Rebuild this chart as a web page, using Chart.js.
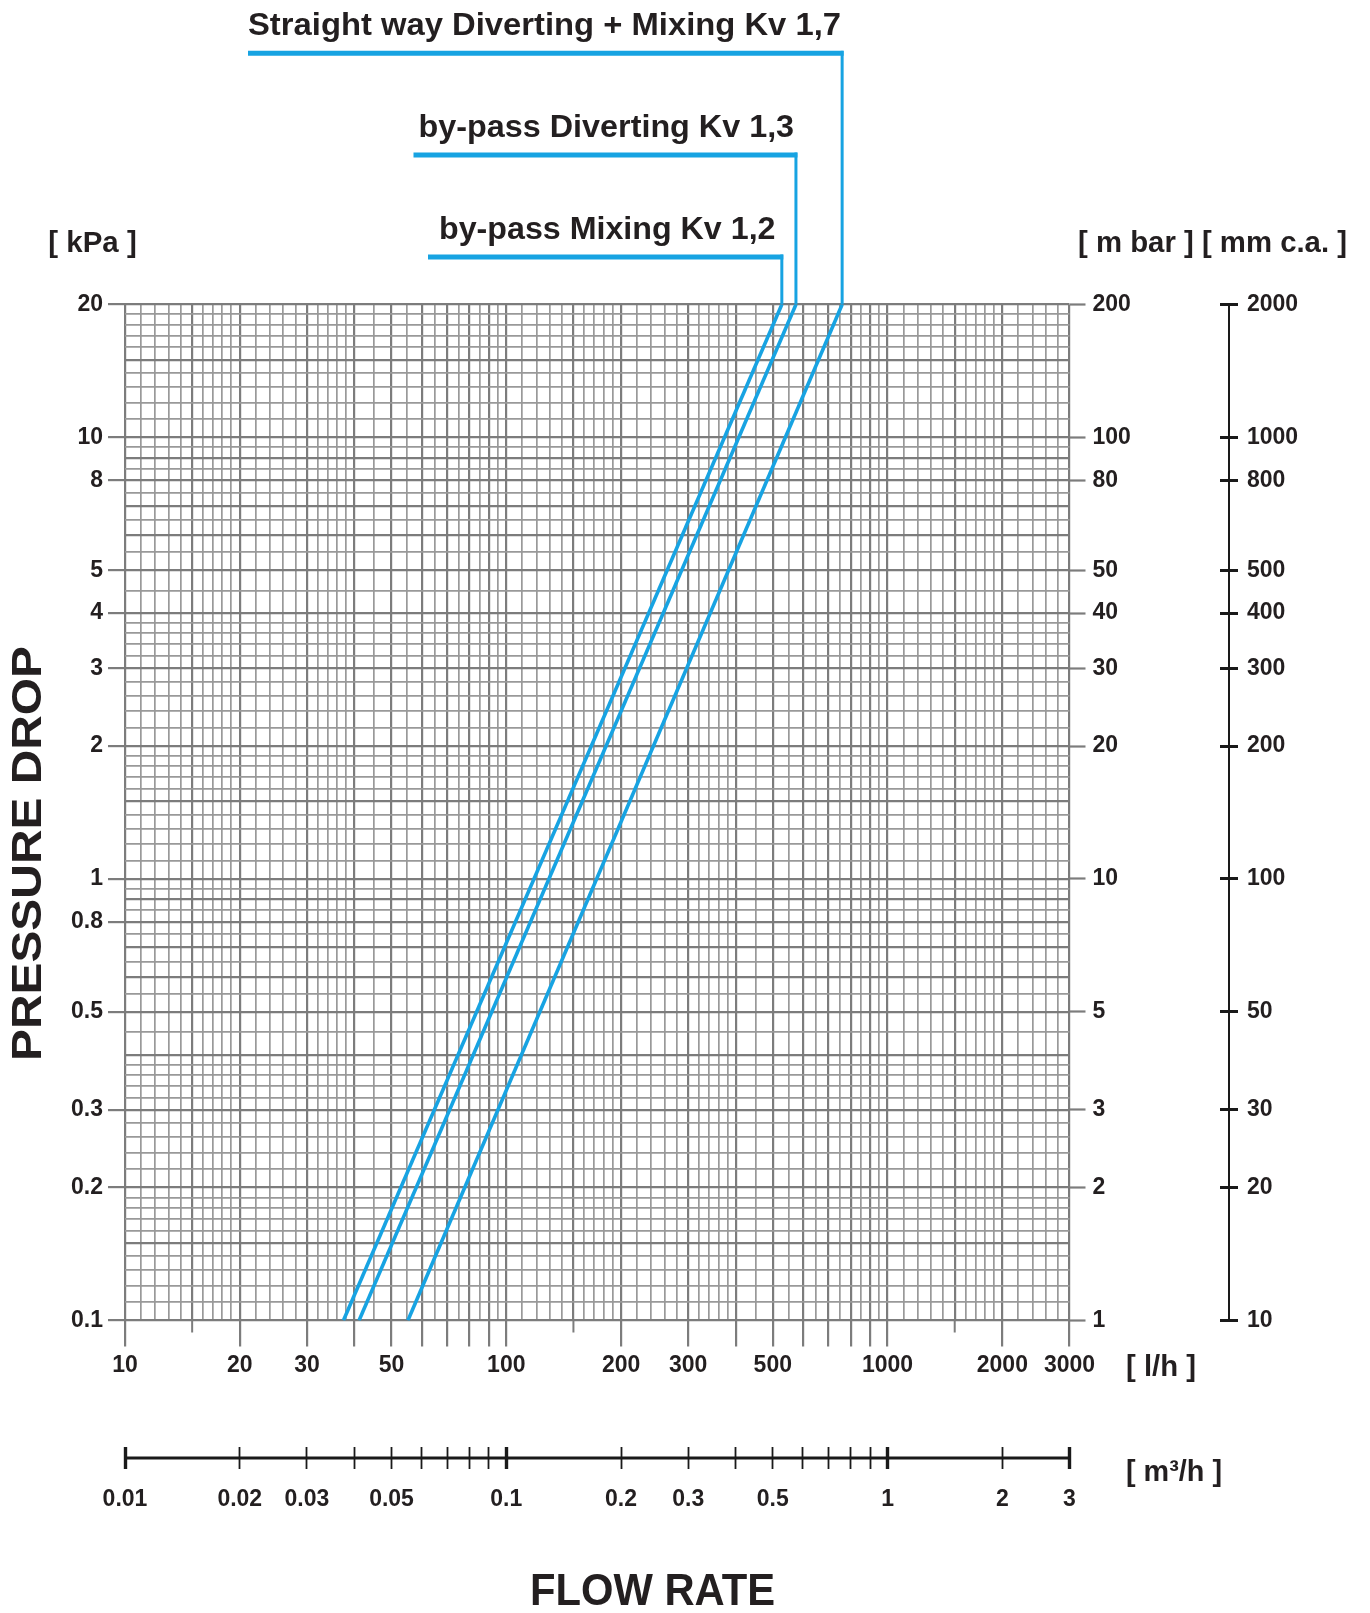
<!DOCTYPE html>
<html><head><meta charset="utf-8">
<script src="https://cdn.jsdelivr.net/npm/chart.js@4.4.1/dist/chart.umd.min.js"></script>
<style>html,body{margin:0;padding:0;background:#fff;}#wrap{width:1370px;height:1613px;position:relative;}canvas{display:block;}</style>
</head><body><div id="wrap"><canvas id="c" width="1370" height="1613"></canvas></div>
<script>
// ---------- DATA ----------
const seriesNames = ['by-pass Mixing Kv 1,2', 'by-pass Diverting Kv 1,3', 'Straight way Diverting + Mixing Kv 1,7'];
const kv12Flow = [37.4, 528];   // l/h
const kv12Drop = [0.1, 20];     // kPa
const kv13Flow = [41.1, 575];
const kv13Drop = [0.1, 20];
const kv17Flow = [55.2, 760];
const kv17Drop = [0.1, 20];

const flowLabels = [10, 20, 30, 50, 100, 200, 300, 500, 1000, 2000, 3000];
const flowTicks = [10, 20, 30, 40, 50, 60, 70, 80, 90, 100, 200, 300, 400, 500, 600, 700, 800, 900, 1000, 2000, 3000];
const flowShortTicks = [15, 150, 1500];
const kpaLabels = [20, 10, 8, 5, 4, 3, 2, 1, 0.8, 0.5, 0.3, 0.2, 0.1];
const mbarLabels = [200, 100, 80, 50, 40, 30, 20, 10, 5, 3, 2, 1];
const mmLabels = [2000, 1000, 800, 500, 400, 300, 200, 100, 50, 30, 20, 10];
const m3hTicks = [0.01, 0.02, 0.03, 0.04, 0.05, 0.06, 0.07, 0.08, 0.09, 0.1, 0.2, 0.3, 0.4, 0.5, 0.6, 0.7, 0.8, 0.9, 1, 2, 3];
const m3hLabels = [0.01, 0.02, 0.03, 0.05, 0.1, 0.2, 0.3, 0.5, 1, 2, 3];
const m3hMajor = [0.01, 0.1, 1, 3];
const gridSteps = [1, 1.1, 1.2, 1.3, 1.4, 1.5, 1.6, 1.7, 1.8, 1.9, 2, 2.2, 2.4, 2.6, 2.8, 3, 3.2, 3.4, 3.6, 3.8, 4, 4.5, 5, 5.5, 6, 6.5, 7, 7.5, 8, 8.5, 9, 9.5];
const gridMajor = [1, 1.5, 2, 3, 4, 5, 6, 7, 8, 9];

// ---------- helpers ----------
const near = (a, b) => Math.abs(a - b) <= Math.abs(b) * 1e-6;
const has = (arr, v) => arr.some(a => near(a, v));
const pick = (arr, v) => { const f = arr.find(a => near(a, v)); return f === undefined ? '' : String(f); };
function gridValues(min, max) {
  const out = [];
  for (let e = Math.floor(Math.log10(min)); e <= Math.ceil(Math.log10(max)); e++) {
    for (const m of gridSteps) {
      const v = parseFloat((m * Math.pow(10, e)).toPrecision(6));
      if (v >= min * 0.99999 && v <= max * 1.00001 && !out.some(o => near(o, v))) out.push(v);
    }
  }
  return out;
}
function isMajorGrid(v) {
  const e = Math.floor(Math.log10(v) + 1e-9);
  const m = parseFloat((v / Math.pow(10, e)).toPrecision(6));
  return has(gridMajor, m);
}
const xGrid = gridValues(10, 3000);
const yGrid = gridValues(0.1, 20);

const blue = '#17a3e2';
const gridDark = '#7c7c7c';
const gridLight = '#999999';
const txt = '#231f20';
const FAM = "'Liberation Sans', Arial, Helvetica, sans-serif";
const tickFont = { family: FAM, size: 23, weight: 'bold' };
const clear = 'rgba(0,0,0,0)';

const tv = c => (c && c.tick) ? c.tick.value : NaN;

function ds(name, flow, drop) {
  return {
    label: name,
    data: flow.map((q, i) => ({ x: q, y: drop[i] })),
    borderColor: blue, backgroundColor: blue, borderWidth: 3.6,
    pointRadius: 0, fill: false, tension: 0
  };
}

// ---------- annotation positions (layout only) ----------
const leaderY = [257, 155, 53.3];
const leaderStartX = [428, 413.5, 248];
const titleX = [439, 418.6, 248];
const titleBase = [238.7, 136.7, 35];
const titleW = [336.5, 375.5, 593];

function fitText(ctx, text, x, y, size, targetW, rotate) {
  ctx.save();
  ctx.font = `bold ${size}px ${FAM}`;
  ctx.fillStyle = txt;
  ctx.textBaseline = 'alphabetic';
  ctx.textAlign = 'left';
  const w = ctx.measureText(text).width;
  ctx.translate(x, y);
  if (rotate) ctx.rotate(rotate);
  ctx.scale(targetW / w, 1);
  ctx.fillText(text, 0, 0);
  ctx.restore();
}

const decor = {
  id: 'decor',
  afterDraw(chart) {
    const ctx = chart.ctx;
    const xs = chart.scales.x, x2 = chart.scales.x2, y3 = chart.scales.y3;
    ctx.save();
    // leader lines from the top of each series to its label
    for (let i = 0; i < 3; i++) {
      const pts = chart.getDatasetMeta(i).data;
      const top = pts[pts.length - 1];
      ctx.strokeStyle = blue;
      ctx.lineCap = 'butt';
      ctx.lineWidth = 3;
      ctx.beginPath();
      ctx.moveTo(top.x, top.y);
      ctx.lineTo(top.x, leaderY[i] - 2.5);
      ctx.stroke();
      ctx.lineWidth = 5;
      ctx.beginPath();
      ctx.moveTo(top.x + 1.5, leaderY[i]);
      ctx.lineTo(leaderStartX[i], leaderY[i]);
      ctx.stroke();
      fitText(ctx, seriesNames[i], titleX[i], titleBase[i], 32, titleW[i]);
    }
    // short ticks on flow axis
    ctx.strokeStyle = gridDark;
    ctx.lineWidth = 2;
    for (const v of flowShortTicks) {
      const px = xs.getPixelForValue(v);
      ctx.beginPath();
      ctx.moveTo(px, chart.chartArea.bottom);
      ctx.lineTo(px, chart.chartArea.bottom + 12);
      ctx.stroke();
    }
    // mm c.a. axis line
    ctx.strokeStyle = '#1a1a1a';
    ctx.lineWidth = 2;
    const lx = y3.left + 9;
    ctx.beginPath();
    ctx.moveTo(lx, y3.getPixelForValue(2000));
    ctx.lineTo(lx, y3.getPixelForValue(10));
    ctx.stroke();
    // m3/h axis line
    ctx.lineWidth = 3;
    const ly = x2.top + 11;
    ctx.beginPath();
    ctx.moveTo(x2.getPixelForValue(0.01), ly);
    ctx.lineTo(x2.getPixelForValue(3), ly);
    ctx.stroke();
    ctx.restore();

    // unit labels and axis titles
    fitText(ctx, '[ kPa ]', 48.3, 251.7, 29, 88.4);
    fitText(ctx, '[ m bar ] [ mm c.a. ]', 1078, 251.7, 29, 269);
    fitText(ctx, '[ l/h ]', 1126, 1376, 29, 70);
    fitText(ctx, '[ m³/h ]', 1126, 1481, 29, 96);
    fitText(ctx, 'PRESSURE DROP', 41, 1061, 42, 415, -Math.PI / 2);
    fitText(ctx, 'FLOW RATE', 530, 1605, 45, 245);
  }
};

const ctx = document.getElementById('c').getContext('2d');
new Chart(ctx, {
  type: 'line',
  data: { datasets: [ds(seriesNames[0], kv12Flow, kv12Drop), ds(seriesNames[1], kv13Flow, kv13Drop), ds(seriesNames[2], kv17Flow, kv17Drop)] },
  options: {
    responsive: false, animation: false, devicePixelRatio: 1,
    layout: { padding: { top: 304.5, left: 0, right: 0, bottom: 0 } },
    plugins: { legend: { display: false }, tooltip: { enabled: false }, title: { display: false } },
    scales: {
      x: {
        type: 'logarithmic', position: 'bottom', weight: 0, min: 10, max: 3000,
        afterFit: s => { s.height = 126.5; },
        afterBuildTicks: s => { s.ticks = xGrid.map(v => ({ value: v })); },
        grid: {
          color: c => isMajorGrid(tv(c)) ? gridDark : gridLight,
          lineWidth: c => isMajorGrid(tv(c)) ? 2.2 : 1.7,
          tickLength: 26,
          tickColor: c => has(flowTicks, tv(c)) ? gridDark : clear,
          tickWidth: 2.2
        },
        border: { display: false },
        ticks: { autoSkip: false, maxRotation: 0, minRotation: 0, padding: 5, font: tickFont, color: txt, callback: v => pick(flowLabels, v) }
      },
      x2: {
        type: 'logarithmic', position: 'bottom', weight: 1, min: 0.01, max: 3,
        afterFit: s => { s.height = 166; },
        afterBuildTicks: s => { s.ticks = m3hTicks.map(v => ({ value: v })); },
        grid: {
          drawOnChartArea: false, tickLength: 22, tickColor: '#1a1a1a',
          tickWidth: c => has(m3hMajor, tv(c)) ? 3.4 : 1.8
        },
        border: { display: false },
        ticks: { autoSkip: false, maxRotation: 0, minRotation: 0, padding: 17, font: tickFont, color: txt, callback: v => pick(m3hLabels, v) }
      },
      y: {
        type: 'logarithmic', position: 'left', min: 0.1, max: 20,
        afterFit: s => { s.width = 125; },
        afterBuildTicks: s => { s.ticks = yGrid.map(v => ({ value: v })); },
        grid: {
          color: c => isMajorGrid(tv(c)) ? gridDark : gridLight,
          lineWidth: c => isMajorGrid(tv(c)) ? 2.2 : 1.7,
          tickLength: 17,
          tickColor: c => has(kpaLabels, tv(c)) ? gridDark : clear,
          tickWidth: 2.2
        },
        border: { display: false },
        ticks: { autoSkip: false, padding: 5, font: tickFont, color: txt, callback: v => pick(kpaLabels, v) }
      },
      y2: {
        type: 'logarithmic', position: 'right', weight: 0, min: 1, max: 200,
        afterFit: s => { s.width = 150.5; },
        afterBuildTicks: s => { s.ticks = mbarLabels.map(v => ({ value: v })); },
        grid: { drawOnChartArea: false, tickLength: 16, tickColor: gridDark, tickWidth: 2.2 },
        border: { display: false },
        ticks: { autoSkip: false, padding: 7, font: tickFont, color: txt, callback: v => pick(mbarLabels, v) }
      },
      y3: {
        type: 'logarithmic', position: 'right', weight: 1, min: 10, max: 2000,
        afterFit: s => { s.width = 150; },
        afterBuildTicks: s => { s.ticks = mmLabels.map(v => ({ value: v })); },
        grid: { drawOnChartArea: false, tickLength: 18, tickColor: '#1a1a1a', tickWidth: 3 },
        border: { display: false },
        ticks: { autoSkip: false, padding: 9, font: tickFont, color: txt, callback: v => pick(mmLabels, v) }
      }
    }
  },
  plugins: [decor]
});
</script>
</body></html>
